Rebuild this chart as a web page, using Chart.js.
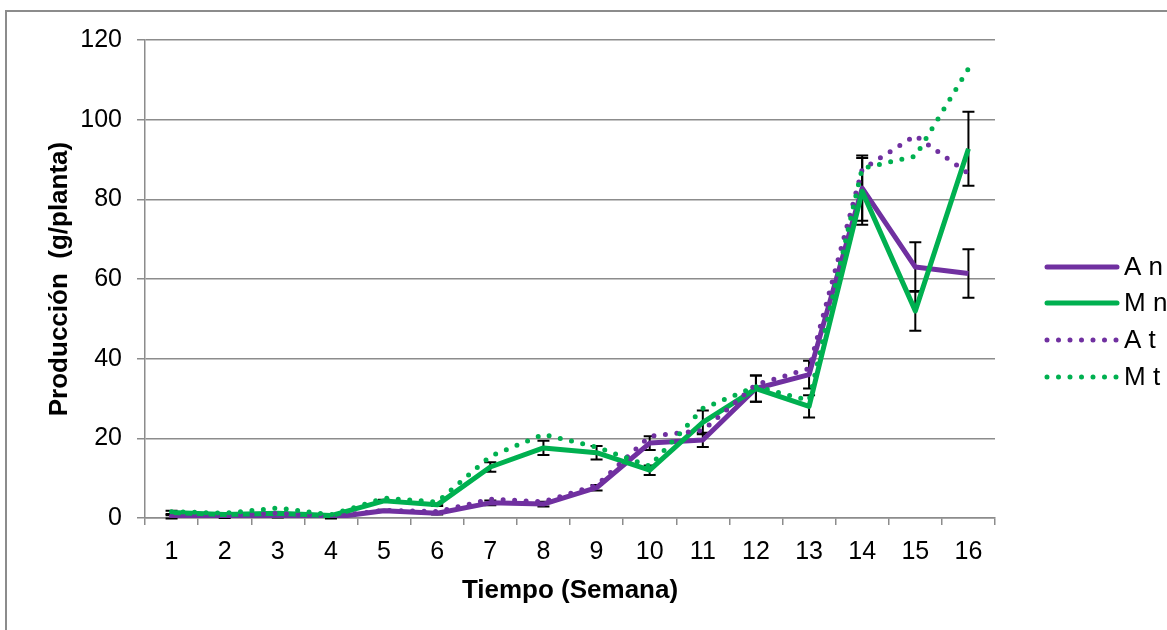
<!DOCTYPE html>
<html>
<head>
<meta charset="utf-8">
<script src="https://cdn.jsdelivr.net/npm/chart.js@4"></script>
<style>
  html, body { margin: 0; padding: 0; background: #fff; }
  #wrap { width: 1167px; height: 630px; position: relative; }
</style>
</head>
<body>
<div id="wrap"><canvas id="chart" width="1167" height="630"></canvas></div>
<script>
// Semanas y producción (g/planta)
const semanas = ["1", "2", "3", "4", "5", "6", "7", "8", "9", "10", "11", "12", "13", "14", "15", "16"];
const An = [0.3, 0.2, 0.3, 0.1, 1.8, 1.2, 3.8, 3.5, 7.6, 18.8, 19.6, 32.5, 36, 82.8, 63, 61.4];
const Mn = [1.4, 0.9, 1.2, 0.6, 4.3, 3.3, 12.8, 17.6, 16.4, 12, 24, 32.5, 28, 82, 52, 92.7];
const At = [0.5, 0.6, 1.2, 0.4, 1.9, 1.6, 4.7, 4.1, 8.2, 20.5, 22, 33.5, 37.5, 87.5, 96, 86.5];
const Mt = [1.6, 1.2, 2.5, 0.8, 5, 4, 15.5, 21, 17.8, 13, 27.5, 33, 29.5, 87.8, 90.8, 112.8];

// desviaciones (barras de error) de las series "n"
const errAn = [0.4, 0.2, 0.2, 0.2, 0.3, 0.3, 0.6, 0.6, 0.7, 1.7, 1.8, 3.3, 3.5, 8.2, 6.2, 6.1];
const errMn = [0.4, 0.2, 0.2, 0.2, 0.3, 0.3, 1.2, 1.8, 1.7, 1.2, 3, 3.3, 2.8, 8.4, 5, 9.3];

const yTicks = [0, 20, 40, 60, 80, 100, 120];

const PURPLE = "#7030A0";
const GREEN = "#00B050";
const GRID = "#8c8c8c";
const FONT = "'Liberation Sans', Arial, sans-serif";

// barras de error, dibujadas debajo de las líneas
const errorBars = {
  id: "errorBars",
  beforeDatasetsDraw(chart) {
    const { ctx, scales: { x, y } } = chart;
    ctx.save();
    ctx.strokeStyle = "#000";
    ctx.lineWidth = 2;
    chart.data.datasets.forEach(ds => {
      if (!ds.errors) return;
      ds.data.forEach((v, j) => {
        const px = x.getPixelForValue(j);
        const top = y.getPixelForValue(v + ds.errors[j]);
        const bot = y.getPixelForValue(v - ds.errors[j]);
        ctx.beginPath();
        ctx.moveTo(px, top); ctx.lineTo(px, bot);
        ctx.moveTo(px - 6, top); ctx.lineTo(px + 6, top);
        ctx.moveTo(px - 6, bot); ctx.lineTo(px + 6, bot);
        ctx.stroke();
      });
    });
    ctx.restore();
  }
};

// leyenda a la derecha, con muestra de línea de cada serie
const sideLegend = {
  id: "sideLegend",
  afterDraw(chart) {
    const { ctx, chartArea } = chart;
    const x0 = chartArea.right + 52;
    const rows = [267, 303, 340, 377];
    ctx.save();
    ctx.font = "26px " + FONT;
    ctx.textBaseline = "middle";
    chart.data.datasets.forEach((ds, i) => {
      const yy = rows[i];
      ctx.beginPath();
      ctx.strokeStyle = ds.borderColor;
      ctx.lineWidth = ds.borderWidth;
      ctx.lineCap = "round";
      ctx.setLineDash(ds.borderDash || []);
      ctx.moveTo(x0, yy);
      ctx.lineTo(x0 + 70, yy);
      ctx.stroke();
      ctx.setLineDash([]);
      ctx.fillStyle = "#000";
      ctx.fillText(ds.label, x0 + 77, yy + 1);
    });
    ctx.restore();
  }
};

const frame = {
  id: "frame",
  beforeDraw(chart) {
    const { ctx } = chart;
    ctx.save();
    ctx.strokeStyle = "#8c8c8c";
    ctx.lineWidth = 2;
    ctx.strokeRect(6, 11, 1300, 700);
    ctx.restore();
  }
};

new Chart(document.getElementById("chart"), {
  type: "line",
  data: {
    labels: semanas,
    datasets: [
      { label: "A n", data: An, errors: errAn, borderColor: PURPLE, borderWidth: 5, order: 4 },
      { label: "M n", data: Mn, errors: errMn, borderColor: GREEN, borderWidth: 5, order: 3 },
      { label: "A t", data: At, borderColor: PURPLE, borderWidth: 5, borderDash: [0, 11.5], borderCapStyle: "round", order: 2 },
      { label: "M t", data: Mt, borderColor: GREEN, borderWidth: 5, borderDash: [0, 11.5], borderCapStyle: "round", order: 1 }
    ].map(d => Object.assign({ pointRadius: 0, tension: 0, fill: false, borderJoinStyle: "round" }, d))
  },
  options: {
    responsive: false,
    animation: false,
    layout: { padding: { left: 0, top: 40, right: 172, bottom: 0 } },
    plugins: { legend: { display: false }, tooltip: { enabled: false } },
    scales: {
      x: {
        offset: true,
        afterFit: s => { s.height = 112; },
        grid: { offset: true, drawOnChartArea: false, color: GRID, lineWidth: 1.5, tickLength: 7 },
        border: { color: GRID, width: 1.5 },
        ticks: { color: "#000", padding: 12, maxRotation: 0, font: { family: FONT, size: 25 } },
        title: {
          display: true, text: "Tiempo (Semana)", color: "#000",
          padding: { top: 0, bottom: 24 },
          font: { family: FONT, size: 26, weight: "bold" }
        }
      },
      y: {
        min: 0, max: 120,
        afterFit: s => { s.width = 145; },
        afterBuildTicks: s => { s.ticks = yTicks.map(v => ({ value: v })); },
        grid: { color: GRID, lineWidth: 1.5, tickLength: 8 },
        border: { color: GRID, width: 1.5 },
        ticks: { color: "#000", padding: 15, font: { family: FONT, size: 25 } },
        title: {
          display: true, text: "Producción  (g/planta)", color: "#000",
          padding: { top: 44, bottom: 0 },
          font: { family: FONT, size: 26, weight: "bold" }
        }
      }
    }
  },
  plugins: [frame, errorBars, sideLegend]
});
</script>
</body>
</html>
